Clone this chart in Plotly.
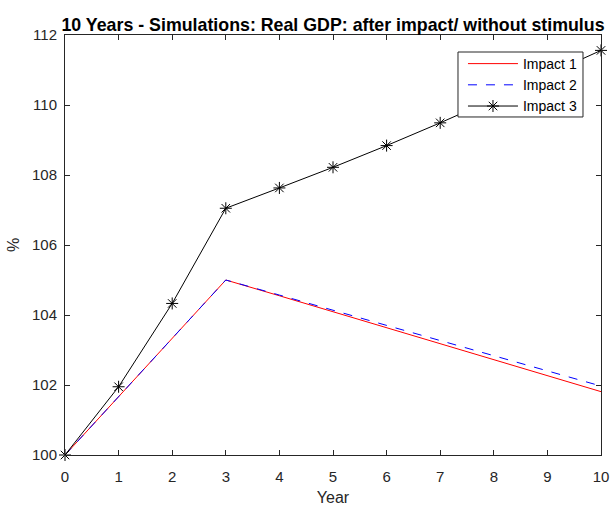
import plotly.graph_objects as go

years = [0, 1, 2, 3, 4, 5, 6, 7, 8, 9, 10]
impact1 = [100, 101.67, 103.33, 105.0, 104.55, 104.09, 103.64, 103.18, 102.73, 102.27, 101.81]
impact2 = [100, 101.67, 103.33, 105.0, 104.57, 104.14, 103.71, 103.28, 102.85, 102.41, 101.97]
impact3 = [100, 101.95, 104.33, 107.05, 107.63, 108.22, 108.84, 109.49, 110.17, 110.86, 111.56]
y_ticks = [100, 102, 104, 106, 108, 110, 112]

fig = go.Figure()
fig.add_trace(go.Scatter(x=years, y=impact1, mode="lines", name="Impact 1",
                         line=dict(color="#ff0000", width=1), cliponaxis=False))
fig.add_trace(go.Scatter(x=years, y=impact2, mode="lines", name="Impact 2",
                         line=dict(color="#0000ff", width=1, dash="dash"), cliponaxis=False))
fig.add_trace(go.Scatter(x=years, y=impact3, mode="lines+markers", name="Impact 3",
                         line=dict(color="#000000", width=1), cliponaxis=False,
                         marker=dict(symbol="asterisk-open", size=10,
                                     line=dict(color="#000000", width=1))))

axis_common = dict(showgrid=False, zeroline=False, showline=True, mirror="ticks",
                   linecolor="#262626", linewidth=1, ticks="inside", ticklen=5,
                   tickcolor="#262626", tickfont=dict(size=15, color="#262626"),
                   automargin=False)

# legend box (decoration) in paper coordinates
fig.add_shape(type="rect", xref="paper", yref="paper",
              x0=0.7332, x1=0.9664, y0=0.8048, y1=0.9595,
              fillcolor="white", line=dict(color="#262626", width=1), layer="above")

fig.update_layout(
    width=613, height=506,
    margin=dict(l=65, r=12, t=35, b=51),
    paper_bgcolor="white", plot_bgcolor="white",
    font=dict(family="Liberation Sans, Arial, sans-serif", color="#262626"),
    title=dict(text="<b>10 Years - Simulations: Real GDP: after impact/ without stimulus</b>",
               x=0.5, xref="paper", xanchor="center", y=1, yref="paper", yanchor="bottom",
               pad=dict(b=4), font=dict(size=17.8, color="#000000"), automargin=False),
    xaxis=dict(range=[0, 10], tickvals=years, ticklabelstandoff=8,
               title=dict(text="Year", standoff=10, font=dict(size=16, color="#262626")),
               **axis_common),
    yaxis=dict(range=[100, 112], tickvals=y_ticks, ticklabelstandoff=4,
               title=dict(text="%", standoff=8, font=dict(size=16, color="#262626")),
               **axis_common),
    legend=dict(x=0.7425, y=0.969, xanchor="left", yanchor="top",
                bgcolor="rgba(0,0,0,0)", borderwidth=0, itemwidth=50,
                font=dict(size=14, color="#000000"), tracegroupgap=0),
    showlegend=True,
)

fig.write_html("out.html", config={"displayModeBar": False},
               post_script="document.body.style.margin='0px';")
